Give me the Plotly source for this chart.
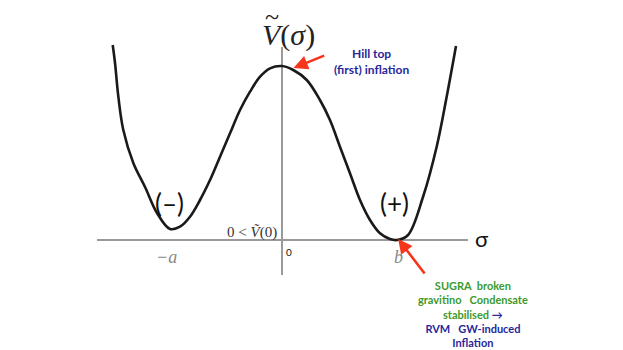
import plotly.graph_objects as go

# potential curve (sigma, V)
sigma = [-1.472, -1.452, -1.423, -1.380, -1.293, -1.191, -1.087, -0.974, -0.887, -0.800,
         -0.713, -0.626, -0.539, -0.452, -0.365, -0.278, -0.191, -0.104, 0.0, 0.098,
         0.215, 0.330, 0.417, 0.504, 0.591, 0.678, 0.765, 0.852, 0.939, 1.0,
         1.096, 1.226, 1.345, 1.432, 1.513]
V = [1.95, 1.77, 1.433, 1.10, 0.77, 0.53, 0.27, 0.11, 0.133, 0.233,
     0.40, 0.60, 0.833, 1.067, 1.30, 1.483, 1.633, 1.717, 1.74, 1.70,
     1.60, 1.40, 1.20, 0.933, 0.667, 0.40, 0.20, 0.067, 0.01, 0.0,
     0.05, 0.43, 0.933, 1.433, 1.94]

# axis extents
axis_sigma = [-1.609, 1.617]
axis_V = [-0.35, 1.93]
minus_a = -0.974
b = 1.0

SERIF = "Liberation Serif"
SANS = "Lato"
BLUE = "#27279a"
GREEN = "#3c9a2c"
RED = "#f5361c"
GREY = "#9a9a9a"

fig = go.Figure()
fig.add_trace(go.Scatter(x=axis_sigma, y=[0, 0], mode="lines",
                         line=dict(color=GREY, width=2), hoverinfo="skip"))
fig.add_trace(go.Scatter(x=[0, 0], y=axis_V, mode="lines",
                         line=dict(color=GREY, width=2), hoverinfo="skip"))
fig.add_trace(go.Scatter(x=sigma, y=V, mode="lines", line_shape="spline",
                         line=dict(color="#1a1a1a", width=2.6)))

ann = [
    dict(x=0.06, y=2.05, text="<i>V</i>(<i>σ</i>)", font=dict(family=SERIF, size=30, color="#222")),
    # wide tilde over the V, box kept tight round the glyph
    dict(x=-0.09, y=2.24, text="~", height=12, valign="middle",
         font=dict(family=SERIF, size=26, color="#222")),
    dict(x=0.78, y=1.79, text="<b>Hill top<br>(first) inflation</b>",
         font=dict(family=SANS, size=12, color=BLUE)),
    dict(x=minus_a, y=0.37, text="(–)", font=dict(family=SANS, size=26, color="#111")),
    dict(x=b - 0.02, y=0.37, text="(+)", font=dict(family=SANS, size=26, color="#111")),
    dict(x=-0.03, y=0.08, text="0 < <i>Ṽ</i>(0)", xanchor="right",
         font=dict(family=SERIF, size=15, color="#333")),
    dict(x=0.06, y=-0.12, text="0", font=dict(family=SANS, size=10, color="#111")),
    dict(x=minus_a - 0.03, y=-0.17, text="<i>−a</i>", font=dict(family=SERIF, size=18, color="#888")),
    dict(x=b + 0.01, y=-0.17, text="<i>b</i>", font=dict(family=SERIF, size=18, color="#888")),
    dict(x=1.74, y=0.02, text="σ", font=dict(family=SANS, size=22, color="#111")),
    dict(x=1.66, y=-0.74, align="center",
         text=("<b><span style='color:%s'>SUGRA  broken<br>gravitino   Condensate<br>"
               "stabilised </span>→<br>RVM   GW-induced<br>Inflation</b>") % GREEN,
         font=dict(family=SANS, size=11, color=BLUE)),
]
for a in ann:
    a.setdefault("showarrow", False)
    fig.add_annotation(**a)

# red arrows
fig.add_annotation(x=0.10, y=1.72, ax=0.38, ay=1.85, axref="x", ayref="y", text="",
                   showarrow=True, arrowhead=2, arrowsize=1.1, arrowwidth=2.6, arrowcolor=RED)
fig.add_annotation(x=1.01, y=0.01, ax=1.25, ay=-0.35, axref="x", ayref="y", text="",
                   showarrow=True, arrowhead=2, arrowsize=1.1, arrowwidth=2.6, arrowcolor=RED)

# the page puts the figure 8px in from the top-left corner, so it is 8px smaller
fig.update_layout(
    width=615, height=342, margin=dict(l=0, r=0, t=0, b=0),
    plot_bgcolor="white", paper_bgcolor="white", showlegend=False,
    xaxis=dict(range=[-274 / 115, 341 / 115], visible=False),
    yaxis=dict(range=[-1.10, 2.32], visible=False),
)
fig.write_html("out.html")
